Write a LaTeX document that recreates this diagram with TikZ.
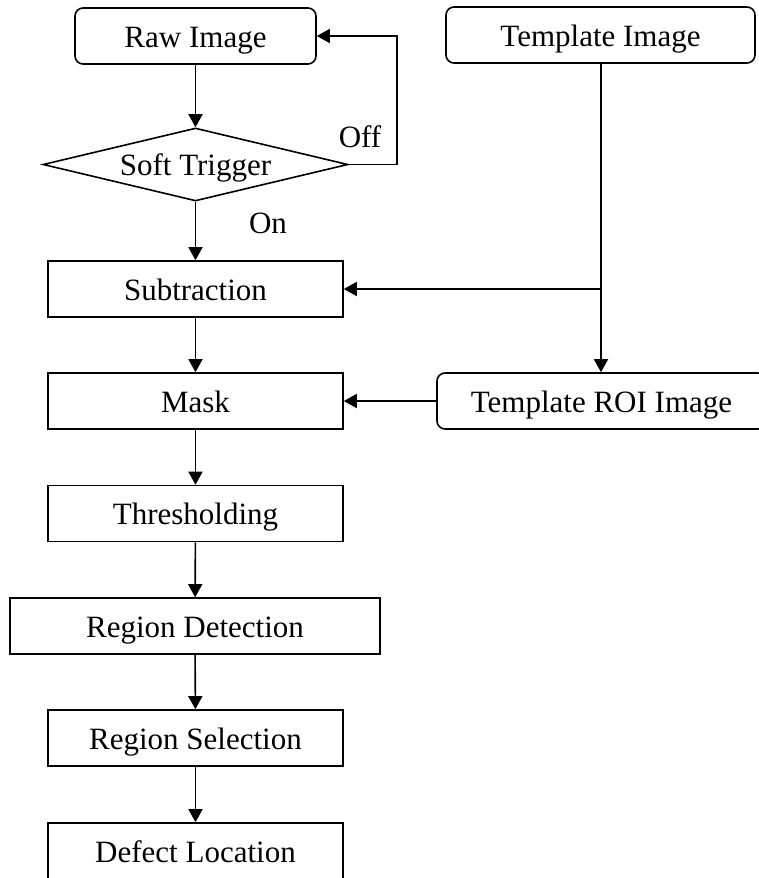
\documentclass[tikz,border=0pt]{standalone}
\usepackage{fontspec}
\setmainfont{Liberation Serif}
\usetikzlibrary{arrows.meta,shapes.geometric}
\begin{document}
\begin{tikzpicture}[x=1pt,y=-1pt,
  line width=1.6pt,
  >={Triangle[length=13pt,width=14pt]},
  every node/.style={font=\fontsize{31}{37}\selectfont, inner sep=0pt, text height=22pt, text depth=0pt},
  sqbox/.style={draw, rectangle, minimum height=56pt},
  rbox/.style={draw, rectangle, rounded corners=8pt, minimum height=56pt},
  dec/.style={draw, diamond, aspect=4.18, minimum width=305pt, minimum height=73pt},
  lbl/.style={}
]
\useasboundingbox (0,0) rectangle (759,878);
\node[rbox, minimum width=241pt] (raw) at (195.5,36) {Raw Image};
\node[rbox, minimum width=309pt] (tpl) at (600.5,35) {Template Image};
\node[dec] (trig) at (195.5,164.5) {Soft Trigger};
\node[sqbox, minimum width=295pt] (sub) at (195.5,289) {Subtraction};
\node[sqbox, minimum width=295pt] (mask) at (195.5,401) {Mask};
\node[rbox, minimum width=329pt] (roi) at (601.5,401) {Template ROI Image};
\node[sqbox, minimum width=295pt] (thr) at (195.5,513.5) {Thresholding};
\node[sqbox, minimum width=370pt] (det) at (195,626) {Region Detection};
\node[sqbox, minimum width=295pt] (sel) at (195.5,738) {Region Selection};
\node[sqbox, minimum width=295pt] (loc) at (195.5,851) {Defect Location};
\node[lbl] (off) at (360,136) {Off};
\node[lbl] (on) at (268,222) {On};
\coordinate (loopc) at (397,164.5);
\coordinate (jn) at (601,289);

\draw[->] (raw) -- (trig);
\draw[->] (trig.east) -- (loopc) |- (raw.east);
\draw[->] (trig) -- (sub);
\draw[->] (tpl.south -| jn) -- (jn) -- (roi.north -| jn);
\draw[->] (jn) -- (sub.east);
\draw[->] (roi) -- (mask);
\draw[->] (sub) -- (mask);
\draw[->] (mask) -- (thr);
\draw[->] (thr) -- (det);
\draw[->] (det) -- (sel);
\draw[->] (sel) -- (loc);
\end{tikzpicture}
\end{document}
